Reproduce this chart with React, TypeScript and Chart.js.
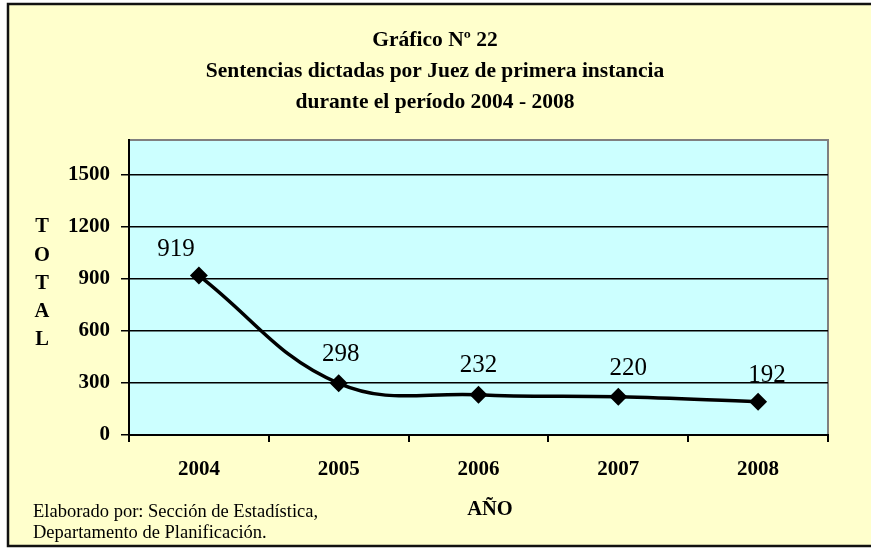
import React, { useEffect, useRef } from "react";
import { Chart, registerables } from "chart.js";

Chart.register(...registerables);

const years = ["2004", "2005", "2006", "2007", "2008"];
const sentencias = [919, 298, 232, 220, 192];
const yTickValues = [0, 300, 600, 900, 1200, 1500];
const titleLines = [
  "Gráfico Nº 22",
  "Sentencias dictadas por Juez de primera instancia",
  "durante el período 2004 - 2008",
];
const yAxisTitle = ["T", "O", "T", "A", "L"];
const xAxisTitle = "AÑO";
const footerLines = ["Elaborado por: Sección de Estadística,", "Departamento de Planificación."];
// label offsets (dx, dy) relative to each point
const labelOffsets = [
  [-23, -26],
  [2, -29],
  [0, -29],
  [10, -28],
  [9, -26],
];

const SERIF = "'Liberation Serif', 'Times New Roman', serif";

const decorPlugin = {
  id: "decor",
  beforeDraw(chart: any) {
    const ctx = chart.ctx;
    const { left, right, top, bottom } = chart.chartArea;
    ctx.save();
    ctx.fillStyle = "#FFFFCC";
    ctx.fillRect(8, 3, 871 - 8, 544);
    ctx.strokeStyle = "#111";
    ctx.lineWidth = 2.5;
    ctx.beginPath();
    ctx.moveTo(875, 4);
    ctx.lineTo(8, 4);
    ctx.lineTo(8, 546);
    ctx.lineTo(875, 546);
    ctx.stroke();
    ctx.fillStyle = "#CCFFFF";
    ctx.fillRect(left, top, right - left, bottom - top);
    ctx.strokeStyle = "#808080";
    ctx.lineWidth = 2;
    ctx.beginPath();
    ctx.moveTo(left, top);
    ctx.lineTo(right, top);
    ctx.lineTo(right, bottom);
    ctx.stroke();
    ctx.restore();
  },
  afterDraw(chart: any) {
    const ctx = chart.ctx;
    ctx.save();
    ctx.fillStyle = "#000";
    ctx.textAlign = "center";
    ctx.textBaseline = "middle";
    ctx.font = "bold 21.5px " + SERIF;
    titleLines.forEach((t, i) => ctx.fillText(t, 435, 40 + i * 31));
    ctx.font = "bold 20.5px " + SERIF;
    yAxisTitle.forEach((t, i) => ctx.fillText(t, 42, 227 + i * 28.3));
    ctx.fillText(xAxisTitle, 490, 510);
    ctx.font = "18.5px " + SERIF;
    ctx.textAlign = "left";
    footerLines.forEach((t, i) => ctx.fillText(t, 33, 512 + i * 21));
    const meta = chart.getDatasetMeta(0);
    ctx.font = "25px " + SERIF;
    ctx.textAlign = "center";
    meta.data.forEach((pt: any, i: number) => {
      const [dx, dy] = labelOffsets[i];
      ctx.fillText(String(sentencias[i]), pt.x + dx, pt.y + dy);
    });
    ctx.restore();
  },
};

export default function App() {
  const ref = useRef<HTMLCanvasElement>(null);
  useEffect(() => {
    if (!ref.current) return;
    const chart = new Chart(ref.current, {
      type: "line",
      data: {
        labels: years,
        datasets: [
          {
            data: sentencias,
            borderColor: "#000",
            backgroundColor: "#000",
            borderWidth: 3.5,
            tension: 0.4,
            pointStyle: "rectRot",
            pointRadius: 6.5,
            pointBackgroundColor: "#000",
            pointBorderColor: "#000",
            fill: false,
          },
        ],
      },
      options: {
        responsive: false,
        animation: false,
        devicePixelRatio: 1,
        layout: { padding: { left: 0, top: 140, right: 43, bottom: 0 } },
        plugins: { legend: { display: false }, tooltip: { enabled: false }, title: { display: false } },
        scales: {
          x: {
            type: "category",
            offset: true,
            grid: {
              offset: true,
              drawOnChartArea: false,
              drawTicks: true,
              tickLength: 7,
              color: "#000",
              lineWidth: 2,
            },
            border: { color: "#000", width: 2 },
            ticks: {
              color: "#000",
              font: { family: SERIF, size: 21, weight: "bold" },
              padding: 15,
            },
            afterFit(scale: any) {
              scale.height = 115;
            },
          },
          y: {
            min: 0,
            max: 1700,
            afterBuildTicks(scale: any) {
              scale.ticks = yTickValues.map((v) => ({ value: v }));
            },
            grid: {
              color: "#000",
              lineWidth: 1.5,
              tickLength: 8,
              drawTicks: true,
            },
            border: { color: "#000", width: 2 },
            ticks: {
              color: "#000",
              font: { family: SERIF, size: 21, weight: "bold" },
              padding: 11,
              callback: (v: any) => String(v),
            },
            afterFit(scale: any) {
              scale.width = 129;
            },
          },
        },
      },
      plugins: [decorPlugin],
    });
    return () => chart.destroy();
  }, []);
  return (
    <div style={{ position: "fixed", left: 0, top: 0, width: 871, height: 550, background: "#fff" }}>
      <canvas ref={ref} width={871} height={550} style={{ display: "block" }} />
    </div>
  );
}
